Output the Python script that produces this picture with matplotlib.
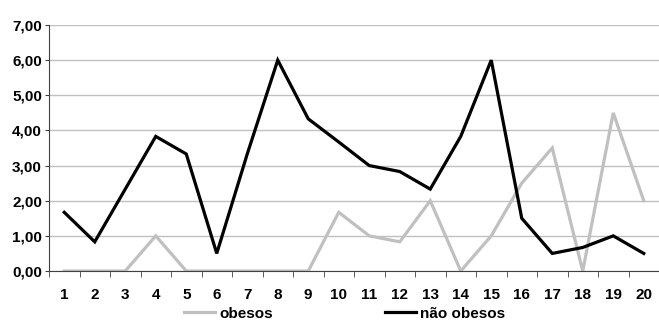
import matplotlib
matplotlib.use("Agg")
import matplotlib.pyplot as plt
from matplotlib.ticker import FuncFormatter, MultipleLocator

categories = [str(i) for i in range(1, 21)]
obesos = [0, 0, 0, 1.0, 0, 0, 0, 0, 0, 1.67, 1.0, 0.83, 2.0, 0, 1.0, 2.5, 3.5, 0, 4.5, 2.0]
nao_obesos = [1.67, 0.83, 2.33, 3.83, 3.33, 0.5, 3.33, 6.0, 4.33, 3.67, 3.0, 2.83, 2.33, 3.83, 6.0, 1.5, 0.5, 0.67, 1.0, 0.5]

plt.rcParams['font.family'] = ['Liberation Sans', 'DejaVu Sans']
plt.rcParams['font.weight'] = 'bold'

fig = plt.figure(figsize=(6.59, 3.2), dpi=100)
ax = fig.add_axes([49/659, 1-271/320, 1-49/659, (271-25)/320])

x = list(range(len(categories)))
l1, = ax.plot(x, obesos, color='#c0c0c0', lw=2.3, label='obesos', solid_joinstyle='miter')
l2, = ax.plot(x, nao_obesos, color='black', lw=2.3, label='não obesos', solid_joinstyle='miter')

ax.set_xlim(-0.5, len(categories) - 0.5)
ax.set_ylim(0, 7)
ax.yaxis.set_major_locator(MultipleLocator(1))
ax.yaxis.set_major_formatter(FuncFormatter(lambda v, p: f"{v:.2f}".replace('.', ',')))
ax.set_xticks(x)
ax.set_xticklabels(categories)
ax.set_xticks([i - 0.5 for i in range(len(categories) + 1)], minor=True)
ax.tick_params(axis='x', which='major', length=0, pad=12, labelsize=11)
ax.tick_params(axis='x', which='minor', length=4, direction='out', color='#404040')
ax.tick_params(axis='y', length=3, direction='out', labelsize=11, pad=2, color='#404040')
for lab in ax.get_xticklabels() + ax.get_yticklabels():
    lab.set_fontweight('bold')

ax.grid(axis='y', color='#c0c0c0', lw=1)
ax.set_axisbelow(True)
for s in ['top', 'right']:
    ax.spines[s].set_visible(False)
ax.spines['left'].set_color('#404040')
ax.spines['bottom'].set_color('#404040')

fig.legend(handles=[l1, l2], loc='center', bbox_to_anchor=(0.523, 0.02), ncol=2,
           frameon=False, handlelength=2.0, handletextpad=0.3, columnspacing=7.35,
           prop={'weight': 'bold', 'size': 11})

fig.savefig('out.png', dpi=100)
